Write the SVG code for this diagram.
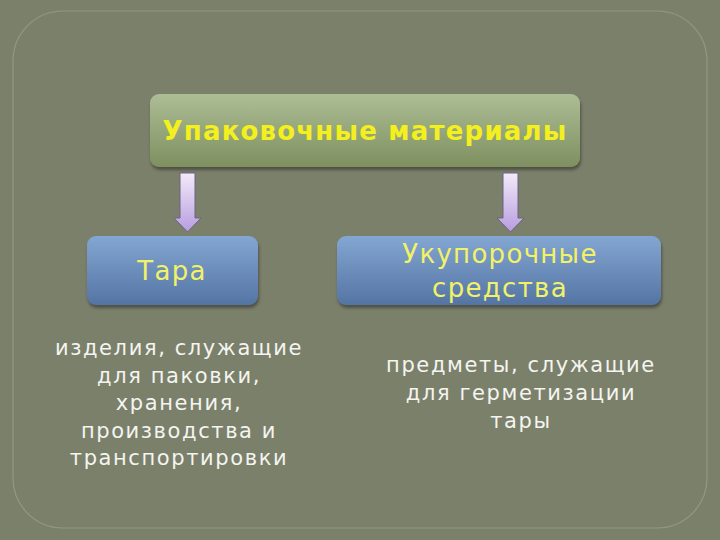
<svg xmlns="http://www.w3.org/2000/svg" width="720" height="540" viewBox="0 0 720 540">
<defs>
<linearGradient id="gGreen" x1="0" y1="0" x2="0" y2="1">
<stop offset="0" stop-color="#adbd95"/>
<stop offset="1" stop-color="#7e9060"/>
</linearGradient>
<linearGradient id="gBlue" x1="0" y1="0" x2="0" y2="1">
<stop offset="0" stop-color="#84a6d2"/>
<stop offset="1" stop-color="#5475a4"/>
</linearGradient>
<linearGradient id="gArrow" x1="0" y1="0" x2="0" y2="1">
<stop offset="0" stop-color="#f3eafa"/>
<stop offset="1" stop-color="#b79de0"/>
</linearGradient>
<filter id="sh" x="-10%" y="-20%" width="120%" height="150%">
<feDropShadow dx="1" dy="3" stdDeviation="1.5" flood-color="#3a3d30" flood-opacity="0.7"/>
</filter>
</defs>
<style>
.title{font-family:"DejaVu Sans",sans-serif;font-weight:bold;font-size:26px;fill:#f4f01e;text-anchor:middle;letter-spacing:1.2px}
.lbl{font-family:"DejaVu Sans",sans-serif;font-size:26px;fill:#f2f266;text-anchor:middle;letter-spacing:1.3px}
.desc{font-family:"DejaVu Sans",sans-serif;font-size:21px;fill:#f4f4f0;text-anchor:middle;letter-spacing:1.6px}
.arrow{fill:url(#gArrow);stroke:#6a6480;stroke-width:1}
</style>
<rect width="720" height="540" fill="#7b806b"/>
<rect x="13" y="11" width="694" height="517" rx="50" ry="50" fill="none" stroke="#939880" stroke-width="1.2"/>
<g id="node-main">
<rect x="150" y="94" width="430" height="73" rx="9" fill="url(#gGreen)" filter="url(#sh)"/>
<text class="title" x="365" y="140">Упаковочные материалы</text>
</g>
<g id="node-tara">
<rect x="87" y="236" width="171" height="69" rx="9" fill="url(#gBlue)" filter="url(#sh)"/>
<text class="lbl" x="172" y="280">Тара</text>
</g>
<g id="node-ukup">
<rect x="337" y="236" width="324" height="69" rx="9" fill="url(#gBlue)" filter="url(#sh)"/>
<text class="lbl" x="500" y="263">Укупорочные</text>
<text class="lbl" x="500" y="297">средства</text>
</g>
<g id="connectors">
<path class="arrow" d="M180,173 H195 V218 H201 L187.5,232 L174,218 H180 Z"/>
<path class="arrow" d="M503,173 H518 V218 H524 L510.5,232 L497,218 H503 Z"/>
</g>
<g id="desc-tara">
<text class="desc" x="179" y="355">изделия, служащие</text>
<text class="desc" x="179" y="383">для паковки,</text>
<text class="desc" x="179" y="410">хранения,</text>
<text class="desc" x="179" y="438">производства и</text>
<text class="desc" x="179" y="465">транспортировки</text>
</g>
<g id="desc-ukup">
<text class="desc" x="521" y="372">предметы, служащие</text>
<text class="desc" x="521" y="400">для герметизации</text>
<text class="desc" x="521" y="428">тары</text>
</g>
</svg>
